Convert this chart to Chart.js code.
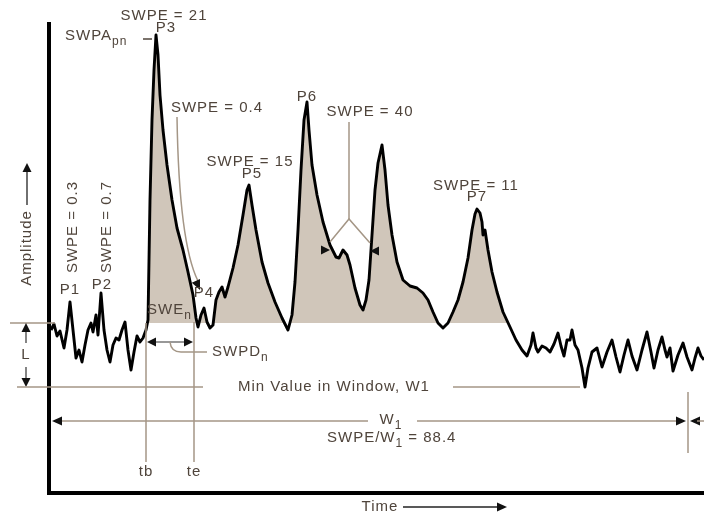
<!DOCTYPE html>
<html><head><meta charset="utf-8">
<script src="https://cdn.jsdelivr.net/npm/chart.js@4"></script>
<style>html,body{margin:0;padding:0;background:#fff;overflow:hidden}</style>
</head><body>
<canvas id="c" width="704" height="516"></canvas>
<script>
// Time (arbitrary units) and amplitude (arbitrary units) of the traced signal
const timeValues = [2,5,8,11,15,18,21,24,27,30,33,36,39,42,44,47,49,52,55,58,61,64,67,70,73,76,79,82,85,88,91,94,97,99,101,103,105,107,109,111,114,118,123,128,134,139,144,147,149,152,155,158,161,164,167,170,173,176,179,184,189,194,198,200,203,207,213,219,226,233,239,243,246,249,252,255,258,260,263,268,274,281,287,290,294,298,301,306,311,314,317,320,323,326,329,333,336,339,343,348,354,361,368,374,379,384,389,394,399,404,409,414,419,423,426,428,431,433,434,436,439,443,448,454,461,467,473,478,482,484,487,489,493,497,501,505,509,512,515,518,521,523,526,529,533,536,539,543,548,553,558,563,567,571,575,579,583,588,593,598,602,605,609,613,616,618,621,624,629,634,638,643,646,649,652,655];
const amplitudeValues = [163,169,157,162,145,163,191,163,135,143,131,148,163,170,161,178,158,200,163,143,131,148,155,153,163,171,143,123,141,157,151,155,163,173,293,373,423,458,438,398,363,328,293,265,243,221,198,175,166,178,185,171,165,168,193,201,206,196,206,225,248,278,303,308,288,263,231,210,191,175,163,178,211,263,323,373,391,363,328,298,271,248,236,235,243,238,228,205,188,183,193,213,258,303,330,348,323,288,258,231,213,207,205,200,193,181,170,165,170,181,193,211,235,263,279,284,280,271,258,263,243,221,201,181,166,153,143,137,148,160,145,141,147,145,141,149,160,147,137,153,153,163,148,143,125,106,125,141,145,126,141,153,136,121,138,153,137,123,143,161,141,125,143,156,143,136,145,122,138,150,136,123,135,145,137,133];
// Reference levels / window markers (data units)
const baselineLevel = 170;   // level L reference (shading base)
const minValueW1 = 106;      // min value in window W1
const tb = 97, te = 145;     // SWE_n begin / end
const windowEnd = 461;       // end of shaded window
const timeMax = 655, ampMax = 469;

const signal = timeValues.map((t, i) => ({x: t, y: amplitudeValues[i]}));
const shaded = signal.filter(p => p.x >= tb && p.x <= windowEnd);

const FONT = '"Liberation Sans", Arial, Helvetica, sans-serif';
const LC = '#a49686', TC = '#4f443b';

const annot = {
  id: 'annot',
  afterDatasetsDraw(chart) {
    const {ctx, scales: {x, y}} = chart;
    const X = t => x.getPixelForValue(t), Y = a => y.getPixelForValue(a);
    ctx.save();
    ctx.lineCap = 'butt';
    const line = (pts, c = LC, w = 1.5) => {
      ctx.beginPath(); ctx.strokeStyle = c; ctx.lineWidth = w;
      pts.forEach(([t, a], i) => i ? ctx.lineTo(X(t), Y(a)) : ctx.moveTo(X(t), Y(a)));
      ctx.stroke();
    };
    const head = (t, a, ang, len = 9, wid = 4, c = '#111') => {
      ctx.save(); ctx.translate(X(t), Y(a)); ctx.rotate(ang);
      ctx.beginPath(); ctx.moveTo(0, 0); ctx.lineTo(-len, -wid); ctx.lineTo(-len, wid); ctx.closePath();
      ctx.fillStyle = c; ctx.fill(); ctx.restore();
    };
    const rich = (parts, t, a, align = 'center', rot = 0, size = 15, col = TC) => {
      ctx.save(); ctx.translate(X(t), Y(a)); ctx.rotate(rot);
      ctx.fillStyle = col; ctx.textBaseline = 'middle'; ctx.textAlign = 'left';
      try { ctx.letterSpacing = '1px'; } catch (e) {}
      const segs = parts.map(p => {
        const [s, sub] = Array.isArray(p) ? p : [p, false];
        const fs = sub ? Math.round(size * 0.8) : size;
        ctx.font = fs + 'px ' + FONT;
        return {s, sub, fs, w: ctx.measureText(s).width};
      });
      const total = segs.reduce((s, g) => s + g.w, 0);
      let cx = align === 'center' ? -total / 2 : align === 'right' ? -total : 0;
      segs.forEach(g => { ctx.font = g.fs + 'px ' + FONT; ctx.fillText(g.s, cx, g.sub ? size * 0.4 : 0); cx += g.w; });
      ctx.restore();
    };

    // level L reference tick and L dimension
    line([[-39, baselineLevel], [6, baselineLevel]]);
    line([[-23, baselineLevel - 3], [-23, 150]], '#333', 1.2);
    line([[-23, 126], [-23, minValueW1 + 3]], '#333', 1.2);
    head(-23, baselineLevel, -Math.PI / 2, 9, 4.5);
    head(-23, minValueW1, Math.PI / 2, 9, 4.5);
    rich(['L'], -23, 138);

    // min value in window
    line([[-32, minValueW1], [154, minValueW1]]);
    rich(['Min Value in Window, W1'], 189, minValueW1, 'left');
    line([[404, minValueW1], [531, minValueW1]]);

    // W1 window dimension
    line([[5, 72], [319, 72]]);
    head(3, 72, Math.PI, 10, 4.5);
    rich(['W', ['1', true]], 342, 73);
    line([[368, 72], [630, 72]]);
    head(637, 72, 0, 10, 4.5);
    line([[639, 101], [639, 40]]);
    head(641, 72, Math.PI, 10, 4.5);
    line([[648, 72], [655, 72]]);
    rich(['SWPE/W', ['1', true], ' = 88.4'], 278, 55, 'left');

    // tb / te markers
    line([[tb, baselineLevel], [tb, 31]]);
    line([[te, baselineLevel + 1], [te, 31]]);
    rich(['tb'], tb, 21);
    rich(['te'], te, 21);

    // SWE_n duration arrow
    line([[tb + 4, 151], [te - 4, 151]], '#333', 1.2);
    head(tb + 1, 151, Math.PI, 9, 4.5);
    head(te - 1, 151, 0, 9, 4.5);
    rich(['SWE', ['n', true]], tb + 1, 183, 'left');

    // SWPD_n leader
    ctx.beginPath(); ctx.strokeStyle = LC; ctx.lineWidth = 1.5;
    ctx.moveTo(X(121), Y(151)); ctx.quadraticCurveTo(X(122), Y(141), X(132), Y(141)); ctx.lineTo(X(158), Y(141)); ctx.stroke();
    rich(['SWPD', ['n', true]], 163, 141, 'left');

    // SWPE = 0.4 leader with arrow to P4
    ctx.beginPath(); ctx.strokeStyle = LC; ctx.lineWidth = 1.5;
    ctx.moveTo(X(128), Y(376)); ctx.quadraticCurveTo(X(130), Y(250), X(149), Y(212)); ctx.stroke();
    head(151, 203, Math.atan2(Y(203) - Y(250), X(151) - X(130)), 10, 4.5);
    rich(['SWPE = 0.4'], 168, 385);

    // SWPE = 40 leader
    line([[300, 371], [300, 274]]);
    line([[281, 251], [300, 274], [321, 250]]);
    head(281, 243, 0, 9, 4.5);
    head(321, 242, Math.PI, 9, 4.5);
    rich(['SWPE = 40'], 321, 381);

    // peak labels
    rich(['SWPE = 21'], 115, 477);
    rich(['SWPA', ['pn', true]], 16, 457, 'left');
    line([[94, 454], [103, 454]], TC, 1.5);
    rich(['P3'], 117, 465);
    rich(['SWPE = 15'], 201, 331);
    rich(['P5'], 203, 319);
    rich(['P6'], 258, 396);
    rich(['SWPE = 11'], 427, 307);
    rich(['P7'], 428, 296);
    rich(['P1'], 21, 203);
    rich(['P2'], 53, 208);
    rich(['P4'], 155, 200);
    rich(['SWPE = 0.3'], 24, 266, 'center', -Math.PI / 2);
    rich(['SWPE = 0.7'], 58, 266, 'center', -Math.PI / 2);

    // axis titles
    rich(['Amplitude'], -22, 245, 'center', -Math.PI / 2);
    line([[-22, 288], [-22, 322]], '#222', 1.3);
    head(-22, 330, -Math.PI / 2, 9, 4.5);
    rich(['Time'], 331, -14);
    line([[354, -14], [450, -14]], '#222', 1.3);
    head(458, -14, 0, 10, 4.5);
    ctx.restore();
  }
};

new Chart(document.getElementById('c'), {
  type: 'line',
  data: {
    datasets: [
      {data: signal, borderColor: '#000', borderWidth: 2.9, pointRadius: 0, tension: 0, fill: false, order: 0, borderJoinStyle: 'round'},
      {data: shaded, borderWidth: 0, borderColor: 'rgba(0,0,0,0)', pointRadius: 0, tension: 0, order: 1,
       fill: {target: {value: baselineLevel}, above: '#d0c6ba', below: 'rgba(0,0,0,0)'}}
    ]
  },
  options: {
    responsive: false, animation: false, devicePixelRatio: 1,
    layout: {padding: {left: 49, right: 0, top: 24, bottom: 23}},
    plugins: {legend: {display: false}, tooltip: {enabled: false}},
    scales: {
      x: {type: 'linear', min: 0, max: timeMax, ticks: {display: false},
          grid: {display: false, drawTicks: false}, border: {display: true, color: '#000', width: 4}},
      y: {type: 'linear', min: 0, max: ampMax, ticks: {display: false},
          grid: {display: false, drawTicks: false}, border: {display: true, color: '#000', width: 4}}
    }
  },
  plugins: [annot]
});
</script>
</body></html>
